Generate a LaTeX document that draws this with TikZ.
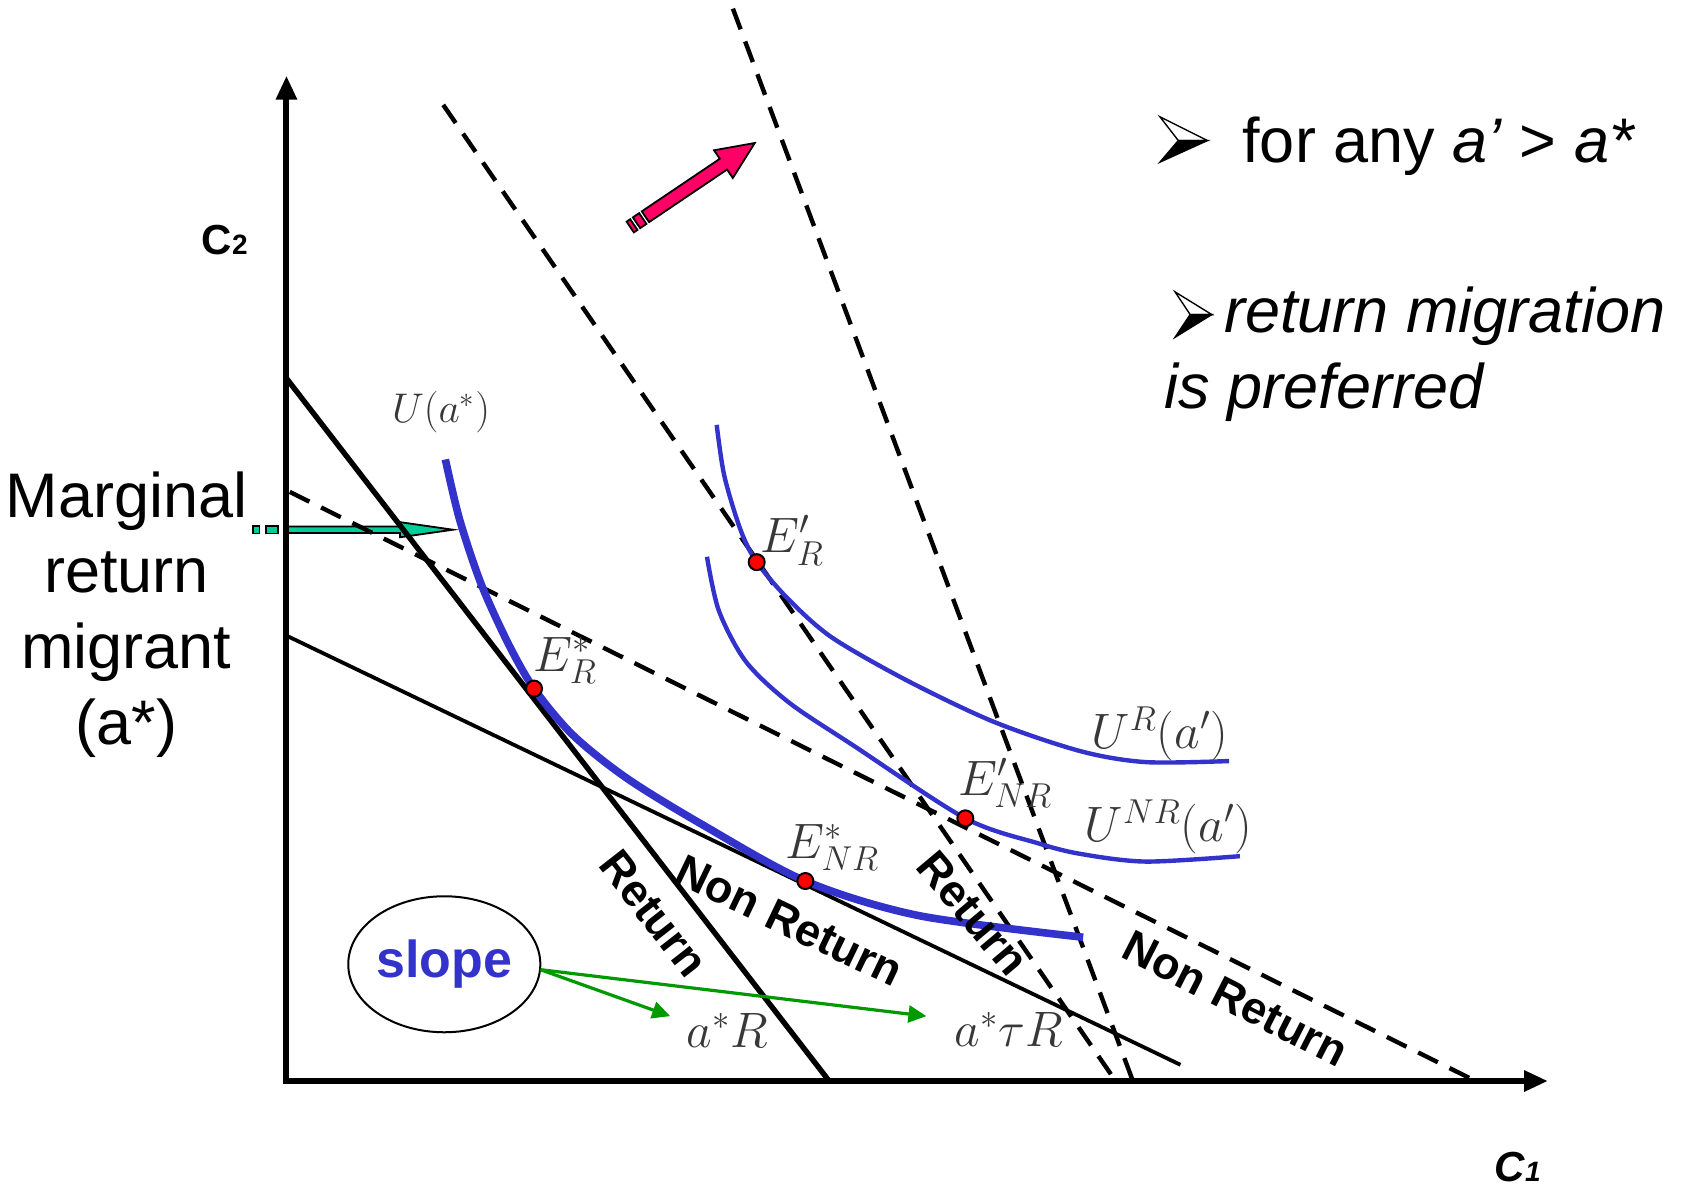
\documentclass[tikz,border=0pt]{standalone}
\usepackage{fontspec}
\setmainfont{Liberation Sans}
\usetikzlibrary{arrows.meta,shapes.geometric}
\definecolor{ublue}{HTML}{3333CC}
\definecolor{rgreen}{HTML}{009900}
\definecolor{tq}{HTML}{00CC99}
\definecolor{pk}{HTML}{FF0066}
\begin{document}
\begin{tikzpicture}[x=0.5405pt,y=-0.5405pt,
  axis/.style={line width=3pt},
  budget/.style={line width=2.7pt},
  budgetthin/.style={line width=1.9pt},
  dline/.style={line width=2.2pt, dash pattern=on 11pt off 6.5pt},
  ucurve/.style={ublue,line width=2.2pt},
  ucurvethick/.style={ublue,line width=3.8pt},
  eqdot/.style={circle,fill=red,draw=black,line width=1pt,minimum size=8pt,inner sep=0},
  mlabel/.style={text=black!78, font=\fontsize{25}{25}\selectfont, inner sep=0},
  seglabel/.style={font=\bfseries\fontsize{22.5}{22.5}\selectfont, inner sep=0},
  bigtext/.style={font=\fontsize{31.5}{37.8}\selectfont, inner sep=0},
  garrow/.style={rgreen, line width=1.6pt, -{Triangle[length=9pt,width=8.5pt]}},
  fatarrow/.style={draw=black, line width=0.9pt, line join=miter},
  bulletlight/.style={fill=white, draw=black, line width=0.7pt, line join=miter},
  bulletdark/.style={fill=black, draw=black, line width=0.7pt, line join=miter},
]
\useasboundingbox (0,0) rectangle (1568,1100);

% turquoise arrow (marginal migrant)
\filldraw[fatarrow, fill=tq] (234,486.5) rectangle (240,493.5);
\filldraw[fatarrow, fill=tq] (246,486.5) rectangle (257,493.5);
\filldraw[fatarrow, fill=tq] (264,487) -- (370,487) -- (370,483) -- (419,490) -- (370,497) -- (370,493) -- (264,493) -- cycle;

% pink arrow
\begin{scope}[shift={(583,210)}, rotate=34]
  \filldraw[fatarrow, fill=pk] (0,-6) rectangle (4,6);
  \filldraw[fatarrow, fill=pk] (7,-6) rectangle (14,6);
  \filldraw[fatarrow, fill=pk] (17,-6) -- (104,-6) -- (104,-15.5) -- (139,0) -- (104,15.5) -- (104,6) -- (17,6) -- cycle;
\end{scope}

% coordinates
\coordinate (O) at (265,1000);
\coordinate (Ytop) at (265,70);
\coordinate (Xend) at (1432,1000);
\coordinate (Xstart) at (262,1000);
\coordinate (r1a) at (265,350);  \coordinate (r1b) at (767,1000);
\coordinate (n1a) at (265,588);  \coordinate (n1b) at (1092,985);
\coordinate (d1a) at (268,455);  \coordinate (d1b) at (1365,1000);
\coordinate (d2a) at (410,97);   \coordinate (d2b) at (1032,1000);
\coordinate (d3a) at (678,8);    \coordinate (d3b) at (1048,1000);

% budget lines
\draw[budget] (r1a) -- (r1b);
\draw[budgetthin] (n1a) -- (n1b);
\draw[dline] (d1a) -- (d1b);
\draw[dline] (d2a) -- (d2b);
\draw[dline] (d3a) -- (d3b);

% axes
\draw[axis, -{Triangle[length=12pt,width=10pt]}] (O) -- (Ytop);
\draw[axis, -{Triangle[length=12pt,width=10pt]}] (Xstart) -- (Xend);

% indifference curves
\draw[ucurvethick] plot[smooth] coordinates {(412,425) (425,480) (445,540) (470,595) (494,637) (530,680) (580,720) (650,763) (745,815) (850,847) (1002,867)};
\draw[ucurve] plot[smooth] coordinates {(663,393) (670,440) (685,490) (700,520) (730,555) (770,590) (840,630) (920,668) (1000,695) (1060,705) (1137,704)};
\draw[ucurve] plot[smooth] coordinates {(654,515) (665,565) (690,612) (730,650) (790,690) (893,757) (960,780) (1000,790) (1060,797) (1147,792)};

% equilibrium points
\node[eqdot] (ERp) at (700,520) {};
\node[eqdot] (ERs) at (494,637) {};
\node[eqdot] (ENRp) at (893,757) {};
\node[eqdot] (ENRs) at (745,815) {};

% math labels
\node[mlabel, font=\fontsize{21}{21}\selectfont] (lUa) at (408,381) {$U(a^*)$};
\node[mlabel] (lERp) at (733,500) {$E'_R$};
\node[mlabel] (lERs) at (523,611) {$E^*_R$};
\node[mlabel] (lENRp) at (930,724) {$E'_{NR}$};
\node[mlabel] (lENRs) at (770,784) {$E^*_{NR}$};
\node[mlabel] (lUR) at (1073,679) {$U^R(a')$};
\node[mlabel] (lUNR) at (1081,765) {$U^{NR}(a')$};
\node[mlabel] (laR) at (673,953) {$a^*R$};
\node[mlabel] (latR) at (933,952) {$a^*\tau R$};

% segment labels
\node[seglabel, rotate=-52] (ret1) at (605,845) {Return};
\node[seglabel, rotate=-25.6] (nr1) at (730,852) {Non Return};
\node[seglabel, rotate=-50] (ret2) at (900,845) {Return};
\node[seglabel, rotate=-27] (nr2) at (1143,924) {Non Return};

% axis labels
\node[inner sep=0, font=\bfseries\fontsize{21}{21}\selectfont] (c2) at (208,222) {C\fontsize{14}{14}\selectfont 2};
\node[inner sep=0, font=\bfseries\itshape\fontsize{21}{21}\selectfont] (c1) at (1404,1080) {C\fontsize{14}{14}\selectfont 1};

% slope ellipse and arrows
\node[ellipse, draw, line width=1pt, minimum width=95pt, minimum height=68pt, inner sep=0,
      text=ublue, font=\bfseries\fontsize{26}{26}\selectfont] (slope) at (411,892) {slope};
\coordinate (gs) at (500,897);
\coordinate (g1) at (620,940);
\coordinate (g2) at (857,940);
\draw[garrow] (gs) -- (g1);
\draw[garrow] (gs) -- (g2);

% marginal migrant text
\node[bigtext, align=center, anchor=north] (marg) at (117,436) {Marginal\\return\\migrant\\(a*)};

% right text with arrowhead bullets
\filldraw[bulletlight] (1073,108) -- (1117,130) -- (1090,130) -- cycle;
\filldraw[bulletdark] (1090,130) -- (1117,130) -- (1073,150) -- cycle;
\node[bigtext, anchor=base west] (t1) at (1149,150) {for any \textit{a’} > \textit{a*}};
\filldraw[bulletlight] (1087,270) -- (1121,291) -- (1101,291) -- cycle;
\filldraw[bulletdark] (1101,291) -- (1121,291) -- (1087,312) -- cycle;
\node[bigtext, anchor=base west] (t2) at (1132,308) {\textit{return migration}};
\node[bigtext, anchor=base west] (t3) at (1077,378) {\textit{is preferred}};
\end{tikzpicture}
\end{document}
